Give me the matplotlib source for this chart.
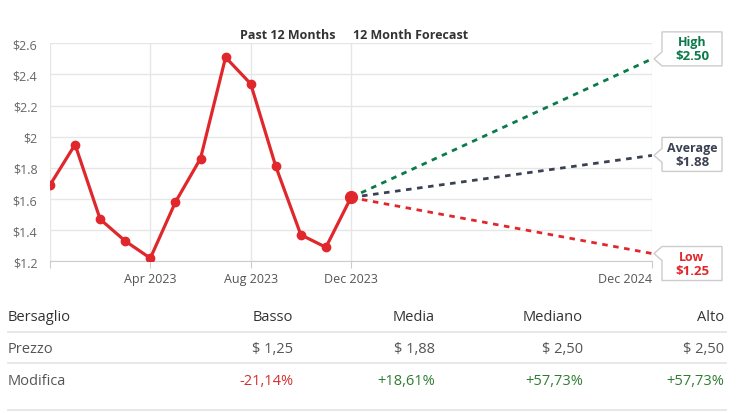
import matplotlib
matplotlib.use("Agg")
import matplotlib.pyplot as plt
from matplotlib.patches import Polygon
from matplotlib.transforms import IdentityTransform

plt.rcParams['font.family'] = ['Open Sans', 'DejaVu Sans']

# past 12 months (Dec 2022 .. Dec 2023), monthly index 0..12
months = list(range(13))
prices = [1.69, 1.95, 1.47, 1.33, 1.22, 1.58, 1.86, 2.51, 2.34, 1.81, 1.37, 1.29, 1.61]

# 12 month forecast (end at index 24 = Dec 2024)
fc_end = 24
fc_names = ['High', 'Average', 'Low']
fc_values = [2.50, 1.88, 1.25]
fc_colors = ['#0b7a4b', '#3a4152', '#e0282c']

xtick_pos = [4, 8, 12, 24]
xtick_labels = ['Apr 2023', 'Aug 2023', 'Dec 2023', 'Dec 2024']
yticks = [1.2, 1.4, 1.6, 1.8, 2.0, 2.2, 2.4, 2.6]
ytick_labels = ['$1.2', '$1.4', '$1.6', '$1.8', '$2', '$2.2', '$2.4', '$2.6']

# table
tab_header = ['Bersaglio', 'Basso', 'Media', 'Mediano', 'Alto']
tab_price = ['Prezzo', '$ 1,25', '$ 1,88', '$ 2,50', '$ 2,50']
tab_change = ['Modifica', '-21,14%', '+18,61%', '+57,73%', '+57,73%']

W, H = 738, 414
fig = plt.figure(figsize=(W / 100, H / 100), dpi=100)
ax = fig.add_axes([50 / W, 1 - 262.3 / H, 602 / W, 218 / H])

red = '#e0282c'
ax.plot(months, prices, color=red, lw=2.3, marker='o', ms=6, zorder=4)
ax.plot(months[-1], prices[-1], 'o', color=red, ms=8.5, zorder=5)

for v, c in zip(fc_values, fc_colors):
    ax.plot([months[-1], fc_end], [prices[-1], v], color=c, lw=2,
            linestyle=(0, (2, 2)), zorder=3)

ax.set_xlim(0, fc_end)
ax.set_ylim(1.2, 2.6)
ax.set_yticks(yticks)
ax.set_yticklabels(ytick_labels)
ax.set_xticks([0] + xtick_pos)
ax.set_xticklabels([''] + xtick_labels)
ax.get_xticklabels()[-1].set_ha('right')
ax.grid(True, color='#e6e6e6', lw=1)
ax.set_axisbelow(True)
for s in ['top', 'right', 'left']:
    ax.spines[s].set_visible(False)
ax.spines['bottom'].set_color('#cccccc')
ax.tick_params(axis='y', length=0, pad=9, labelsize=9, labelcolor='#666666')
ax.tick_params(axis='x', length=5, color='#cccccc', pad=3, labelsize=9,
               labelcolor='#555555')

fig.text(336 / W, 1 - 36 / H, 'Past 12 Months', ha='right', va='center',
         fontsize=9, fontweight='bold', color='#333333')
fig.text(353 / W, 1 - 36 / H, '12 Month Forecast', ha='left', va='center',
         fontsize=9, fontweight='bold', color='#333333')

# callout boxes
box_off = [-10, -1, 10]
fig.canvas.draw()
for name, v, c, off in zip(fc_names, fc_values, fc_colors, box_off):
    tx, ty = ax.transData.transform((fc_end, v))
    tx += 2
    cy = ty - off
    x0, x1 = tx + 8, tx + 68
    y0, y1 = cy - 17, cy + 17
    pts = [(tx, ty), (x0, ty - 7), (x0, y0), (x1, y0), (x1, y1), (x0, y1), (x0, ty + 7)]
    fig.add_artist(Polygon(pts, closed=True, facecolor='white', edgecolor='#cccccc',
                           lw=1, transform=IdentityTransform(), zorder=10))
    xm = (x0 + x1) / 2
    fig.text(xm / W, (cy + 7) / H, name, ha='center', va='center', fontsize=9,
             fontweight='bold', color=c, zorder=11)
    fig.text(xm / W, (cy - 7) / H, '$%.2f' % v, ha='center', va='center', fontsize=9.5,
             fontweight='bold', color=c, zorder=11)

# table
col_right = [293, 435, 583, 724]
row_y = [318, 350, 382]
line_y = [333, 364, 411]
for ly in line_y:
    fig.add_artist(plt.Line2D([8 / W, 726 / W], [1 - ly / H] * 2, color='#e3e3e3',
                              lw=1.2))
rows = [tab_header, tab_price, tab_change]
for r, (row, y) in enumerate(zip(rows, row_y)):
    col = '#333333' if r == 0 else '#555555'
    fig.text(8 / W, 1 - y / H, row[0], ha='left', va='center', fontsize=10.5, color=col)
    for i, cell in enumerate(row[1:]):
        cc = col
        if r == 2:
            cc = '#d32f2f' if cell.startswith('-') else '#2e7d32'
        fig.text(col_right[i] / W, 1 - y / H, cell, ha='right', va='center',
                 fontsize=10.5, color=cc)

fig.savefig('out.png', dpi=100)
